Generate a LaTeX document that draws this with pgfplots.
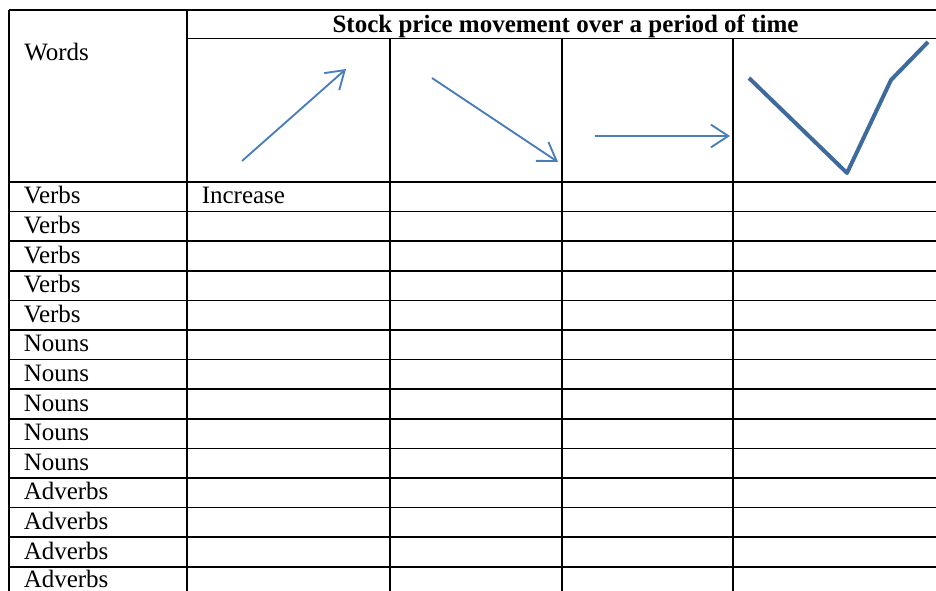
\documentclass[border=0pt]{standalone}
\usepackage{fontspec}
\setmainfont{Liberation Serif}
\usepackage{pgfplots}
\pgfplotsset{compat=1.18}
\usetikzlibrary{arrows.meta}
\definecolor{arrowblue}{HTML}{4A7EBB}
\definecolor{lineblue}{HTML}{3F6A9E}
\tikzset{cell/.style={inner sep=0pt, anchor=base west, font=\fontsize{18.75}{22}\selectfont}}
\begin{document}
\begin{tikzpicture}
\begin{axis}[
  scale only axis, width=702pt, height=443.25pt,
  xmin=0, xmax=936, ymin=0, ymax=591, y dir=reverse,
  hide axis, clip=true, unbounded coords=jump,
  every axis plot/.append style={mark=none},
]
% table rules (pixel coordinates, y downwards)
\addplot[black, line width=1.2pt] coordinates {
  (9,10) (936,10) (nan,nan)
  (187,38.5) (936,38.5) (nan,nan)
  (9,182) (936,182) (nan,nan)
  (9,211.6) (936,211.6) (nan,nan)
  (9,241.2) (936,241.2) (nan,nan)
  (9,270.8) (936,270.8) (nan,nan)
  (9,300.4) (936,300.4) (nan,nan)
  (9,330) (936,330) (nan,nan)
  (9,359.6) (936,359.6) (nan,nan)
  (9,389.2) (936,389.2) (nan,nan)
  (9,418.8) (936,418.8) (nan,nan)
  (9,448.4) (936,448.4) (nan,nan)
  (9,478) (936,478) (nan,nan)
  (9,507.6) (936,507.6) (nan,nan)
  (9,537.2) (936,537.2) (nan,nan)
  (9,566.8) (936,566.8) (nan,nan)
  (9,10) (9,600) (nan,nan)
  (187,10) (187,600) (nan,nan)
  (390,38.5) (390,600) (nan,nan)
  (562,38.5) (562,600) (nan,nan)
  (733,38.5) (733,600)
};
% movement icons
\addplot[arrowblue, line width=1.4pt, -{Straight Barb[length=13pt,width=17pt]}] coordinates {(242,161) (346,69)};
\addplot[arrowblue, line width=1.4pt, -{Straight Barb[length=13pt,width=17pt]}] coordinates {(432,78) (558,162)};
\addplot[arrowblue, line width=1.4pt, -{Straight Barb[length=13pt,width=17pt]}] coordinates {(595,136) (730,136)};
\addplot[lineblue, line width=3pt, line join=round] coordinates {(749,78) (847,173) (891,80) (928,42)};
\end{axis}
\begin{axis}[
  scale only axis, width=702pt, height=443.25pt,
  xmin=0, xmax=936, ymin=0, ymax=591, y dir=reverse,
  hide axis, clip=false,
]
\path (axis cs:0,0) rectangle (axis cs:936,591);
\node[cell] at (axis cs:24,61) {Words};
\node[cell, anchor=base, font=\fontsize{18.75}{22}\selectfont\bfseries] at (axis cs:565.5,33) {Stock price movement over a period of time};
\node[cell] at (axis cs:201.5,204) {Increase};
\node[cell] at (axis cs:23.5,204) {Verbs};
\node[cell] at (axis cs:23.5,233.6) {Verbs};
\node[cell] at (axis cs:23.5,263.2) {Verbs};
\node[cell] at (axis cs:23.5,292.8) {Verbs};
\node[cell] at (axis cs:23.5,322.4) {Verbs};
\node[cell] at (axis cs:23.5,352) {Nouns};
\node[cell] at (axis cs:23.5,381.6) {Nouns};
\node[cell] at (axis cs:23.5,411.2) {Nouns};
\node[cell] at (axis cs:23.5,440.8) {Nouns};
\node[cell] at (axis cs:23.5,470.4) {Nouns};
\node[cell] at (axis cs:23.5,500) {Adverbs};
\node[cell] at (axis cs:23.5,529.6) {Adverbs};
\node[cell] at (axis cs:23.5,559.2) {Adverbs};
\node[cell] at (axis cs:23.5,587.5) {Adverbs};
\end{axis}
\end{tikzpicture}
\end{document}
